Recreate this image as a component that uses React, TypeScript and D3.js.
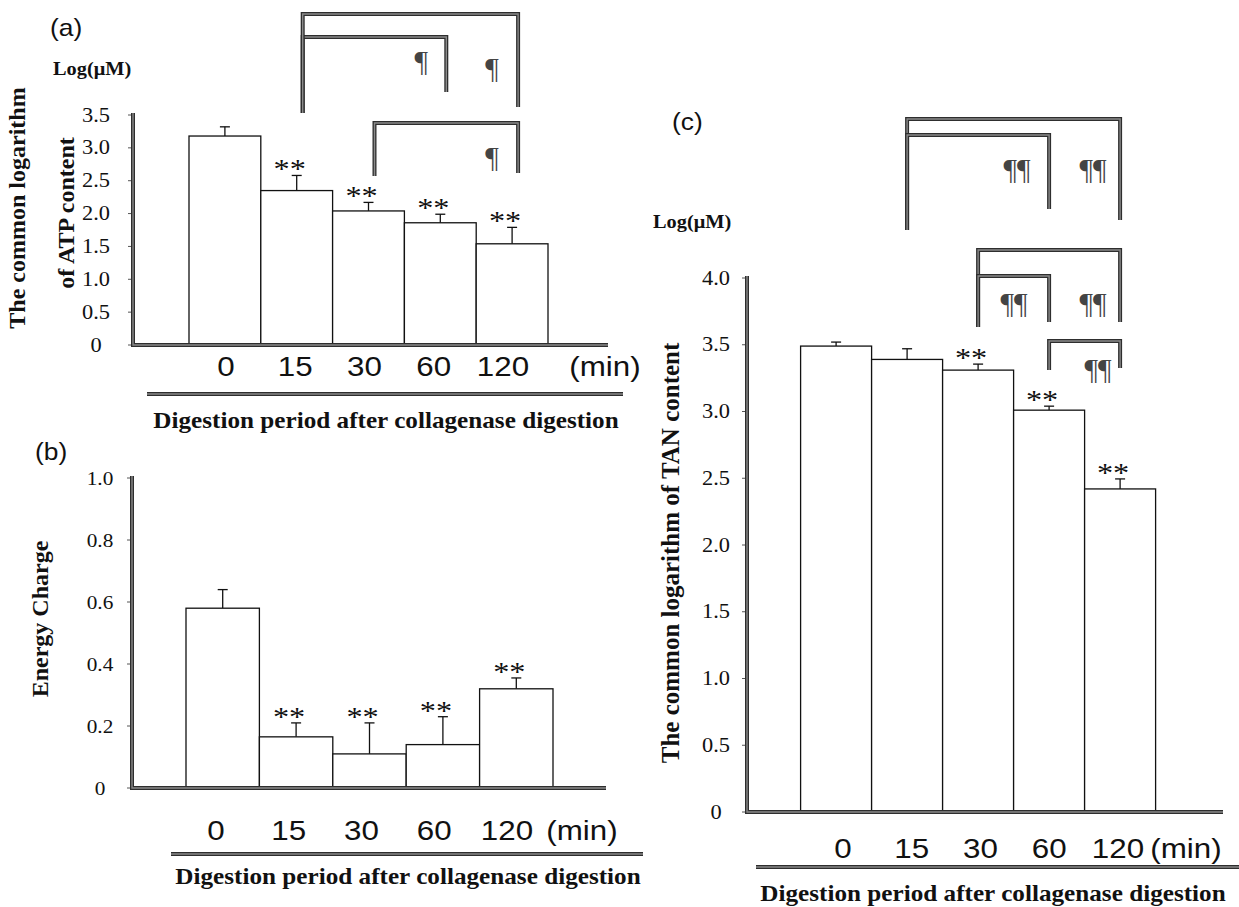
import React from "react";
import * as d3 from "d3";

// ---------- data ----------
const CATS = ["0", "15", "30", "60", "120"];

const ATP_MEAN = [3.18, 2.35, 2.04, 1.86, 1.54];
const ATP_ERR = [0.14, 0.23, 0.13, 0.13, 0.25];
const ATP_SIG = [false, true, true, true, true];
const ATP_TICKS = [0, 0.5, 1.0, 1.5, 2.0, 2.5, 3.0, 3.5];

const EC_MEAN = [0.58, 0.165, 0.11, 0.14, 0.32];
const EC_ERR = [0.06, 0.045, 0.1, 0.09, 0.035];
const EC_SIG = [false, true, true, true, true];
const EC_TICKS = [0, 0.2, 0.4, 0.6, 0.8, 1.0];

const TAN_MEAN = [3.49, 3.39, 3.31, 3.01, 2.42];
const TAN_ERR = [0.03, 0.08, 0.045, 0.03, 0.075];
const TAN_SIG = [false, false, true, true, true];
const TAN_TICKS = [0, 0.5, 1.0, 1.5, 2.0, 2.5, 3.0, 3.5, 4.0];

const ATP_BRACKETS = [
  { from: "15", to: "60", mark: "¶" },
  { from: "15", to: "120", mark: "¶" },
  { from: "30", to: "120", mark: "¶" },
];
const TAN_BRACKETS = [
  { from: "15", to: "120", mark: "¶¶" },
  { from: "15", to: "60", mark: "¶¶" },
  { from: "30", to: "120", mark: "¶¶" },
  { from: "30", to: "60", mark: "¶¶" },
  { from: "60", to: "120", mark: "¶¶" },
];

const X_UNIT = "(min)";
const X_TITLE = "Digestion period after collagenase digestion";

// ---------- layout (pixels / styles) ----------
const SERIF = "Liberation Serif, Times New Roman, serif";
const SANS = "Liberation Sans, Arial, sans-serif";

const PANELS = [
  {
    tag: "(a)", tagX: 50, tagY: 36,
    mean: ATP_MEAN, err: ATP_ERR, sig: ATP_SIG, ticks: ATP_TICKS,
    ymax: 3.5, yTop: 115, yBottom: 345,
    barX0: 189, barX1: 548, axisX: 133, axisXEnd: 608,
    tickX: 96, tickFont: 20,
    unitLabel: "Log(μM)", unitX: 53, unitY: 75,
    titles: [
      { text: "The common logarithm", x: 25, y: 208, fs: 24 },
      { text: "of ATP content", x: 74, y: 213, fs: 24 },
    ],
    catX0: 226, catX1: 503, minX: 605, catY: 376,
    ulX0: 147, ulX1: 623, ulY: 394,
    xtX: 386, xtY: 428,
    brackets: ATP_BRACKETS,
    bracketDx: 6,
    bLayout: [
      { top: 37, lb: 113, rb: 92, sdx: -25, sy: 62 },
      { top: 14, lb: 113, rb: 107, sdx: -26, sy: 69 },
      { top: 123, lb: 176, rb: 173, sdx: -26, sy: 158 },
    ],
  },
  {
    tag: "(b)", tagX: 35, tagY: 460,
    mean: EC_MEAN, err: EC_ERR, sig: EC_SIG, ticks: EC_TICKS,
    ymax: 1.0, yTop: 478, yBottom: 788,
    barX0: 186, barX1: 553, axisX: 132, axisXEnd: 606,
    tickX: 100, tickFont: 19,
    unitLabel: null, unitX: 0, unitY: 0,
    titles: [{ text: "Energy Charge", x: 48, y: 619, fs: 24 }],
    catX0: 216, catX1: 507, minX: 582, catY: 840,
    ulX0: 171, ulX1: 643, ulY: 854,
    xtX: 408, xtY: 884,
    brackets: [],
    bracketDx: 0,
    bLayout: [],
  },
  {
    tag: "(c)", tagX: 672, tagY: 130,
    mean: TAN_MEAN, err: TAN_ERR, sig: TAN_SIG, ticks: TAN_TICKS,
    ymax: 4.0, yTop: 278, yBottom: 812,
    barX0: 800.6, barX1: 1155.6, axisX: 747, axisXEnd: 1223,
    tickX: 716, tickFont: 20,
    unitLabel: "Log(μM)", unitX: 653, unitY: 228,
    titles: [{ text: "The common logarithm of TAN content", x: 679, y: 553, fs: 25 }],
    catX0: 843, catX1: 1118, minX: 1186, catY: 858,
    ulX0: 756, ulX1: 1239, ulY: 867,
    xtX: 993, xtY: 901,
    brackets: TAN_BRACKETS,
    bracketDx: 0,
    bLayout: [
      { top: 119, lb: 230, rb: 220, sdx: -27, sy: 170 },
      { top: 135, lb: 230, rb: 209, sdx: -32, sy: 170 },
      { top: 250, lb: 327, rb: 322, sdx: -27, sy: 304 },
      { top: 276, lb: 327, rb: 322, sdx: -35, sy: 304 },
      { top: 341, lb: 370, rb: 368, sdx: -22, sy: 370 },
    ],
  },
];

function ThickLine({ d }: { d: string }) {
  return (
    <g>
      <path d={d} fill="none" stroke="#2e2e2e" strokeWidth={4} strokeLinejoin="miter" />
      <path d={d} fill="none" stroke="#8a8a8a" strokeWidth={1.4} strokeLinejoin="miter" />
    </g>
  );
}

function Panel({ p }: { p: any }) {
  const x = d3.scaleBand<string>().domain(CATS).range([p.barX0, p.barX1]).padding(0);
  const y = d3.scaleLinear().domain([0, p.ymax]).range([p.yBottom, p.yTop]);
  const catPos = d3.scalePoint<string>().domain(CATS).range([p.catX0, p.catX1]);
  const bw = x.bandwidth();
  const cx = (c: string) => (x(c) as number) + bw / 2;
  const fmt = (v: number) => (v === 0 ? "0" : v.toFixed(1));

  return (
    <g>
      <text transform={`translate(${p.tagX},${p.tagY}) scale(1.1,1)`} fontFamily={SANS} fontSize={24} fill="#111">
        {p.tag}
      </text>
      {p.unitLabel && (
        <text transform={`translate(${p.unitX},${p.unitY}) scale(1.1,1)`} fontFamily={SERIF} fontWeight="bold" fontSize={18.5} fill="#111">
          {p.unitLabel}
        </text>
      )}
      {p.titles.map((t: any, i: number) => (
        <text key={i} transform={`translate(${t.x},${t.y}) rotate(-90)`} textAnchor="middle" fontFamily={SERIF} fontWeight="bold" fontSize={t.fs} fill="#111">
          {t.text}
        </text>
      ))}

      {/* y ticks */}
      {p.ticks.map((v: number) => (
        <g key={v}>
          <line x1={p.axisX - 5} x2={p.axisX} y1={y(v)} y2={y(v)} stroke="#555" strokeWidth={1} />
          <text transform={`translate(${p.tickX},${y(v) + 6.5}) scale(1.12,1)`} textAnchor="middle" fontFamily={SERIF} fontSize={p.tickFont} fill="#111">
            {fmt(v)}
          </text>
        </g>
      ))}

      {/* bars */}
      {CATS.map((c, i) => {
        const top = y(p.mean[i]);
        const et = y(p.mean[i] + p.err[i]);
        return (
          <g key={c}>
            <line x1={cx(c)} x2={cx(c)} y1={top} y2={et} stroke="#111" strokeWidth={1.3} />
            <line x1={cx(c) - 5} x2={cx(c) + 5} y1={et} y2={et} stroke="#111" strokeWidth={1.3} />
            <rect x={x(c)} y={top} width={bw} height={p.yBottom - top} fill="#fff" stroke="#111" strokeWidth={1.3} />
            {p.sig[i] && (
              <text transform={`translate(${cx(c) - 7},${et + 3}) scale(1.15,1)`} textAnchor="middle" fontFamily={SERIF} fontSize={28} fill="#111">
                **
              </text>
            )}
          </g>
        );
      })}

      {/* axes */}
      <ThickLine d={`M${p.axisX},${p.yTop - 2} V${p.yBottom} H${p.axisXEnd}`} />

      {/* brackets */}
      {p.brackets.map((b: any, i: number) => {
        const L = p.bLayout[i];
        const xl = cx(b.from) + p.bracketDx;
        const xr = cx(b.to) + p.bracketDx;
        return (
          <g key={i}>
            <ThickLine d={`M${xl},${L.lb} V${L.top} H${xr} V${L.rb}`} />
            <text x={xr + L.sdx} y={L.sy + 9} textAnchor="middle" fontFamily={SERIF} fontSize={30} fill="#444">
              {b.mark}
            </text>
          </g>
        );
      })}

      {/* category labels */}
      {CATS.map((c) => (
        <text key={c} transform={`translate(${catPos(c)},${p.catY}) scale(1.12,1)`} textAnchor="middle" fontFamily={SANS} fontSize={28} fill="#111">
          {c}
        </text>
      ))}
      <text transform={`translate(${p.minX},${p.catY}) scale(1.12,1)`} textAnchor="middle" fontFamily={SANS} fontSize={28} fill="#111">
        {X_UNIT}
      </text>

      <ThickLine d={`M${p.ulX0},${p.ulY} H${p.ulX1}`} />
      <text transform={`translate(${p.xtX},${p.xtY}) scale(1.12,1)`} textAnchor="middle" fontFamily={SERIF} fontWeight="bold" fontSize={22.5} fill="#111">
        {X_TITLE}
      </text>
    </g>
  );
}

export default function App() {
  return (
    <svg width={1239} height={907} style={{ position: "absolute", left: 0, top: 0, background: "#fff" }}>
      <rect width={1239} height={907} fill="#fff" />
      {PANELS.map((p, i) => (
        <Panel key={i} p={p} />
      ))}
    </svg>
  );
}
